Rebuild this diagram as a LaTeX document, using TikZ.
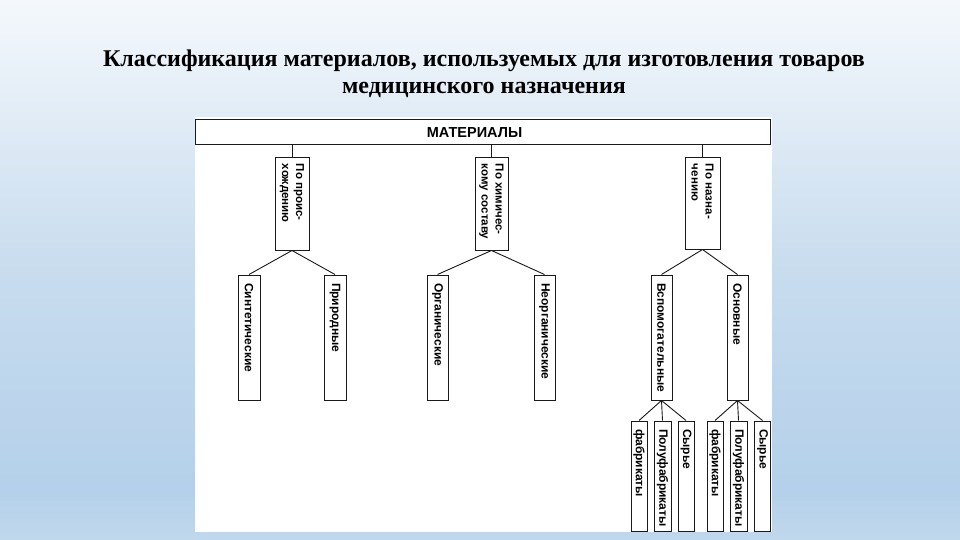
\documentclass[tikz,border=0pt]{standalone}
\usepackage{fontspec}
\setmainfont{Liberation Serif}
\newfontfamily\boxfont{Liberation Sans}
\usepackage{graphicx}

\definecolor{bgtop}{HTML}{F4F8FC}
\definecolor{bgmid}{HTML}{C8DCEE}
\definecolor{bglow}{HTML}{B4D0EA}
\definecolor{bgbot}{HTML}{C0D8EC}
\definecolor{ink}{HTML}{1A1A1A}

\pgfdeclareverticalshading{slidebg}{100bp}{color(0bp)=(bgbot); color(25bp)=(bgbot); color(29.6bp)=(bglow); color(50bp)=(bgmid); color(75bp)=(bgtop); color(100bp)=(bgtop)}

\newcommand{\vlab}[2]{\rotatebox{-90}{\parbox{#1}{\raggedright #2}}}

\begin{document}
\begin{tikzpicture}[x=1pt,y=-1pt,
  box/.style={draw=ink, line width=1pt, fill=white, inner sep=0pt,
    font=\boxfont\bfseries\fontsize{12}{14}\selectfont},
  catbox/.style={box, font=\boxfont\bfseries\fontsize{11.5}{14}\selectfont},
  link/.style={draw=ink, line width=0.9pt}]
\useasboundingbox (0,0) rectangle (960,540);
\shade[shading=slidebg] (0,0) rectangle (960,540);
\fill[white] (195,117) rectangle (772,532);

\node[font=\bfseries\fontsize{24}{27}\selectfont, align=center] (title) at (484,74)
  {Классификация материалов, используемых для изготовления товаров\\медицинского назначения};

\node[box, minimum width=575pt, minimum height=25pt,
  font=\boxfont\bfseries\fontsize{14.5}{16}\selectfont] (mat) at (482.5,132.5) {МАТЕРИАЛЫ\hspace*{16pt}};

% level 1
\node[catbox, minimum width=34pt, minimum height=92pt] (orig) at (292,204) {\vlab{80pt}{По проис-\\хождению}};
\node[catbox, minimum width=33pt, minimum height=92pt] (chem) at (491.5,204) {\vlab{80pt}{По химичес-\\кому составу}};
\node[catbox, minimum width=35pt, minimum height=91pt] (purp) at (702.5,203.5) {\vlab{79pt}{По назна-\\чению}};

% level 2
\node[box, minimum width=22pt, minimum height=125pt] (synt) at (249,337.5) {\vlab{109pt}{Синтетические}};
\node[box, minimum width=22pt, minimum height=125pt] (natur) at (335,337.5) {\vlab{109pt}{Природные}};
\node[box, minimum width=21pt, minimum height=125pt] (org) at (437.5,337.5) {\vlab{109pt}{Органические}};
\node[box, minimum width=21pt, minimum height=125pt] (inorg) at (544.5,337.5) {\vlab{109pt}{Неорганические}};
\node[box, minimum width=21pt, minimum height=125pt] (aux) at (661.5,337.5) {\vlab{109pt}{Вспомогательные}};
\node[box, minimum width=21pt, minimum height=125pt] (main) at (737.5,337.5) {\vlab{109pt}{Основные}};

% level 3
\node[box, minimum width=16pt, minimum height=110pt] (auxA) at (639,476) {\vlab{94pt}{фабрикаты}};
\node[box, minimum width=17pt, minimum height=110pt] (auxB) at (662.5,476) {\vlab{94pt}{Полуфабрикаты}};
\node[box, minimum width=16pt, minimum height=110pt] (auxC) at (686,476) {\vlab{94pt}{Сырье}};
\node[box, minimum width=16pt, minimum height=110pt] (mainA) at (715,476) {\vlab{94pt}{фабрикаты}};
\node[box, minimum width=17pt, minimum height=110pt] (mainB) at (738.5,476) {\vlab{94pt}{Полуфабрикаты}};
\node[box, minimum width=16pt, minimum height=110pt] (mainC) at (762.5,476) {\vlab{94pt}{Сырье}};

% connectors
\draw[link] (orig.north) -- (orig.north |- mat.south);
\draw[link] (chem.north) -- (chem.north |- mat.south);
\draw[link] (purp.north) -- (purp.north |- mat.south);

\draw[link] (orig.south) -- (synt.north);
\draw[link] (orig.south) -- (natur.north);
\draw[link] (chem.south) -- (org.north);
\draw[link] (chem.south) -- (inorg.north);
\draw[link] (purp.south) -- (aux.north);
\draw[link] (purp.south) -- (main.north);

\draw[link] (aux.south) -- (auxA.north);
\draw[link] (aux.south) -- (auxB.north);
\draw[link] (aux.south) -- (auxC.north);
\draw[link] (main.south) -- (mainA.north);
\draw[link] (main.south) -- (mainB.north);
\draw[link] (main.south) -- (mainC.north);
\end{tikzpicture}
\end{document}
